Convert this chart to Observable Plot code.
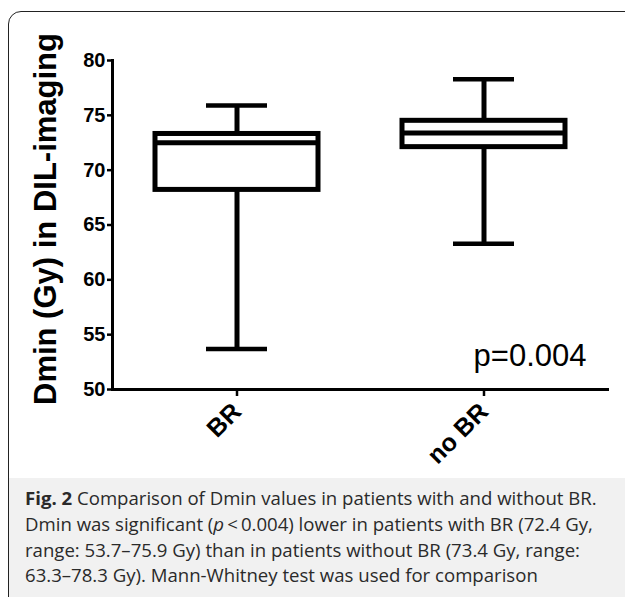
<!DOCTYPE html>
<html><head><meta charset="utf-8">
<script src="https://cdn.jsdelivr.net/npm/d3@7"></script>
<script src="https://cdn.jsdelivr.net/npm/@observablehq/plot@0.6"></script>
<style>
html,body{margin:0;padding:0;background:#fff;}
#wrap{position:relative;width:625px;height:597px;overflow:hidden;}
#capbg{position:absolute;left:9px;top:478px;width:700px;height:200px;background:#f1f1f1;}
#frame{position:absolute;left:8px;top:11px;width:700px;height:700px;border:1.5px solid #222;border-radius:13px;box-sizing:border-box;}
#chart{position:absolute;left:0;top:0;}
#caption{position:absolute;left:25px;top:485px;font-family:"Open Sans";font-size:18.6px;line-height:25.8px;color:#2a2a2a;white-space:nowrap;}
</style></head>
<body>
<div id="wrap">
  <div id="capbg"></div>
  <div id="frame"></div>
  <div id="chart"></div>
  <div id="caption"><b>Fig. 2</b> Comparison of Dmin values in patients with and without BR.<br>Dmin was significant (<i>p</i>&thinsp;&lt;&thinsp;0.004) lower in patients with BR (72.4 Gy,<br>range: 53.7–75.9 Gy) than in patients without BR (73.4 Gy, range:<br>63.3–78.3 Gy). Mann-Whitney test was used for comparison</div>
</div>
<script>
const groups = ["BR", "no BR"];
const mins = [53.7, 63.3];
const q1s = [68.2, 72.1];
const medians = [72.5, 73.4];
const q3s = [73.3, 74.5];
const maxs = [75.9, 78.3];
const yTicks = [50, 55, 60, 65, 70, 75, 80];
const yLabel = ["Dmin (Gy) in DIL-imaging"];
const pLabel = ["p=0.004"];

const data = groups.map((g, i) => ({group: g, min: mins[i], q1: q1s[i], median: medians[i], q3: q3s[i], max: maxs[i]}));

const chart = Plot.plot({
  width: 625, height: 480,
  marginLeft: 112, marginRight: 18, marginTop: 60, marginBottom: 91,
  style: {fontFamily: "'Liberation Sans', Arial, sans-serif", background: "transparent", color: "#000"},
  x: {type: "band", domain: groups, padding: 0, label: null},
  y: {domain: [50, 80], label: null},
  marks: [
    Plot.ruleX(data, {x: "group", y1: "min", y2: "q1", strokeWidth: 5, stroke: "#000"}),
    Plot.ruleX(data, {x: "group", y1: "q3", y2: "max", strokeWidth: 5, stroke: "#000"}),
    Plot.tickY(data, {x: "group", y: "min", insetLeft: 93, insetRight: 93, strokeWidth: 4.5, stroke: "#000"}),
    Plot.tickY(data, {x: "group", y: "max", insetLeft: 93, insetRight: 93, strokeWidth: 4.5, stroke: "#000"}),
    Plot.barY(data, {x: "group", y1: "q1", y2: "q3", insetLeft: 42, insetRight: 42, fill: "#fff", stroke: "#000", strokeWidth: 5}),
    Plot.tickY(data, {x: "group", y: "median", insetLeft: 42, insetRight: 42, strokeWidth: 5, stroke: "#000"}),
    Plot.axisY({ticks: yTicks, tickSize: 5, tickPadding: 2, fontSize: 20, fontWeight: "bold", strokeWidth: 2.5, label: null}),
    Plot.axisX({tickSize: 7, tickPadding: 11, tickRotate: -45, fontSize: 25, fontWeight: "bold", strokeWidth: 2.5, label: null}),
    Plot.frame({anchor: "left", strokeWidth: 3, stroke: "#000"}),
    Plot.frame({anchor: "bottom", strokeWidth: 3, stroke: "#000"}),
    Plot.text(yLabel, {frameAnchor: "left", textAnchor: "middle", rotate: -90, dx: -66, dy: -6, fontSize: 31, fontWeight: "bold", fill: "#000"}),
    Plot.text(pLabel, {frameAnchor: "bottom-right", textAnchor: "end", dx: -21, dy: -24, fontSize: 31, fill: "#000"})
  ]
});
document.getElementById("chart").appendChild(chart);
</script>
</body></html>
